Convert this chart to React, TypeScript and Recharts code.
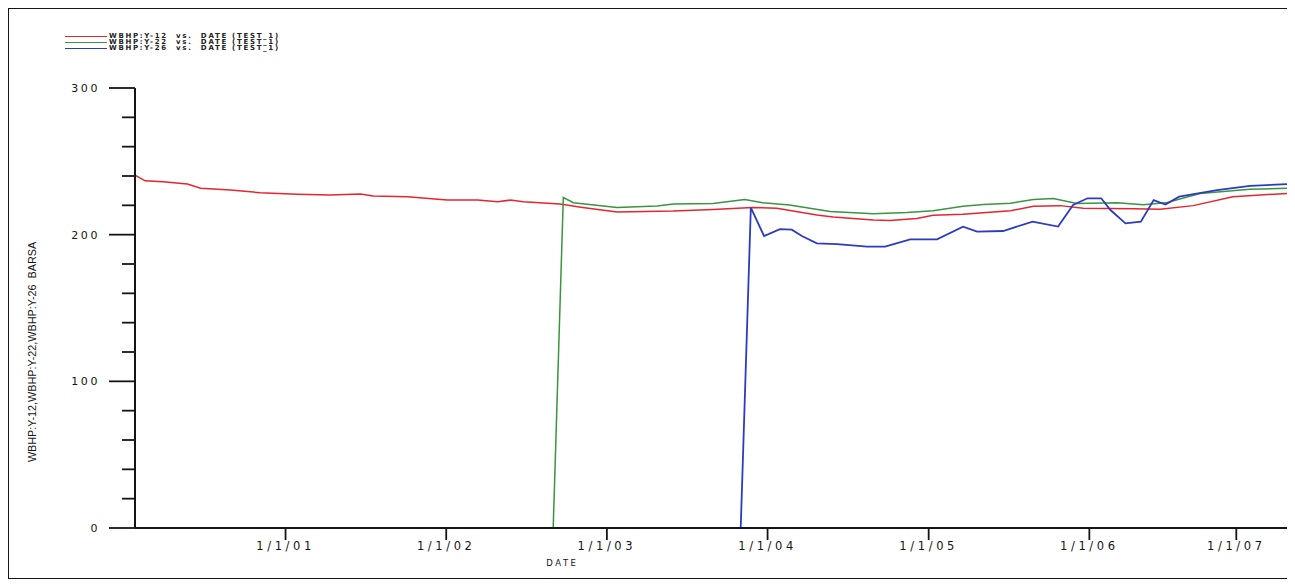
import React from 'react';
import { LineChart, Line, XAxis, YAxis, Legend } from 'recharts';

// Bottom-hole pressure history (BARSA) for wells Y-12, Y-22 and Y-26
const y12Dates = [
  '2000-01-25', '2000-02-17', '2000-03-29', '2000-05-23', '2000-06-22', '2000-08-29', '2000-11-04',
  '2001-01-28', '2001-04-13', '2001-06-20', '2001-07-19', '2001-10-05',
  '2002-01-03', '2002-03-13', '2002-04-28', '2002-05-27', '2002-06-25', '2002-09-16', '2002-11-07',
  '2003-01-24', '2003-06-01', '2003-08-30', '2003-11-28',
  '2004-01-22', '2004-04-22', '2004-05-29', '2004-08-28', '2004-10-05', '2004-12-05',
  '2005-01-11', '2005-03-20', '2005-05-05', '2005-07-06', '2005-08-27', '2005-10-27', '2005-12-18',
  '2006-04-11', '2006-06-11', '2006-08-25', '2006-11-23', '2007-03-26',
];
const y12Values = [
  240.6, 236.7, 236, 234.5, 231.6, 230.4, 228.6,
  227.5, 227, 227.7, 226.3, 225.8,
  223.6, 223.6, 222.4, 223.6, 222.4, 220.9, 218.6,
  215.4, 216.1, 217.2, 218.6,
  218, 213.4, 212, 210, 209.7, 211.1,
  213.3, 214, 215, 216.3, 219.3, 219.8, 218,
  217.7, 217.3, 219.8, 225.9, 228.1,
];

const y22Dates = [
  '2002-09-01', '2002-09-24', '2002-10-17',
  '2003-01-24', '2003-04-25', '2003-06-01', '2003-08-30', '2003-11-10', '2003-12-21',
  '2004-02-20', '2004-05-22', '2004-08-28', '2004-11-13',
  '2005-01-11', '2005-03-20', '2005-05-05', '2005-07-06', '2005-08-27', '2005-10-11', '2005-12-04',
  '2006-03-05', '2006-05-04', '2006-06-27', '2006-09-09', '2007-01-01', '2007-03-26',
];
const y22Values = [
  0, 225.3, 221.8,
  218.6, 219.5, 220.9, 221.3, 224, 221.8,
  220.2, 215.8, 214.3, 215.1,
  216.3, 219.3, 220.5, 221.5, 224, 224.7, 221.3,
  221.8, 220.4, 222, 228, 230.9, 231.6,
];

const y26Dates = [
  '2003-11-01', '2003-11-24', '2003-12-24',
  '2004-01-29', '2004-02-25', '2004-03-19', '2004-04-22', '2004-06-07', '2004-08-14', '2004-09-24', '2004-11-20',
  '2005-01-20', '2005-03-20', '2005-04-21', '2005-06-19', '2005-08-25', '2005-10-22', '2005-11-25', '2005-12-28',
  '2006-01-28', '2006-02-18', '2006-03-24', '2006-04-28', '2006-05-27', '2006-06-23', '2006-07-24', '2006-10-18',
  '2007-01-01', '2007-03-26',
];
const y26Values = [
  0, 218.4, 199.1,
  203.8, 203.4, 199.1, 194.1, 193.6, 191.8, 191.8, 196.8,
  196.8, 205.5, 202.1, 202.5, 208.9, 205.5, 220.2, 224.8,
  224.8, 216.8, 207.7, 208.9, 223.6, 220.5, 225.9, 230.4,
  233.2, 234.5,
];

const seriesNames = [
  'WBHP:Y-12  vs.  DATE (TEST_1)',
  'WBHP:Y-22  vs.  DATE (TEST_1)',
  'WBHP:Y-26  vs.  DATE (TEST_1)',
];
const seriesColors = ['#e3262f', '#3a9440', '#2b3cbf'];

const xStart = '2000-01-25';
const xEnd = '2007-03-26';
const xTickDates = ['2001-01-01', '2002-01-01', '2003-01-01', '2004-01-01', '2005-01-01', '2006-01-01', '2007-01-01'];
const xTickLabels = ['1/1/01', '1/1/02', '1/1/03', '1/1/04', '1/1/05', '1/1/06', '1/1/07'];
const yTicks = [0, 20, 40, 60, 80, 100, 120, 140, 160, 180, 200, 220, 240, 260, 280, 300];
const yLabelTicks = [0, 100, 200, 300];

const toSeries = (dates: string[], values: number[]) =>
  dates.map((d, i) => ({ t: Date.parse(d), v: values[i] }));

const y12 = toSeries(y12Dates, y12Values);
const y22 = toSeries(y22Dates, y22Values);
const y26 = toSeries(y26Dates, y26Values);

const xTicks = xTickDates.map((d) => Date.parse(d));
const axisFont = '"DejaVu Sans", Verdana, sans-serif';
const ink = '#151515';

const YTick = (props: any) => {
  const { x, y, payload } = props;
  const major = yLabelTicks.includes(payload.value);
  return (
    <g>
      <line x1={x - (major ? 26 : 13)} x2={x} y1={y} y2={y} stroke={ink} strokeWidth={1.8} />
      {major && (
        <text
          x={x - 35}
          y={y}
          dy={4}
          textAnchor="end"
          fontFamily={axisFont}
          fontSize={11}
          letterSpacing={2.6}
          fill={ink}
        >
          {payload.value}
        </text>
      )}
    </g>
  );
};

const XTick = (props: any) => {
  const { x, y, payload } = props;
  const idx = xTicks.indexOf(payload.value);
  return (
    <g>
      <line x1={x} x2={x} y1={y} y2={y + 12} stroke={ink} strokeWidth={1.8} />
      <text
        x={x}
        y={y + 22}
        textAnchor="middle"
        fontFamily={axisFont}
        fontSize={11.5}
        letterSpacing={3.6}
        fill={ink}
      >
        {idx >= 0 ? xTickLabels[idx] : ''}
      </text>
    </g>
  );
};

const LegendBox = (props: any) => {
  const { payload } = props;
  return (
    <div>
      {(payload || []).map((entry: any) => (
        <div
          key={entry.value}
          style={{ display: 'flex', alignItems: 'center', height: 6 }}
        >
          <span
            style={{
              display: 'inline-block',
              width: 42,
              height: 0,
              borderTop: `1.3px solid ${entry.color}`,
              marginRight: 2,
            }}
          />
          <span
            style={{
              fontFamily: axisFont,
              fontSize: 7,
              fontWeight: 'bold',
              letterSpacing: 1.7,
              lineHeight: '6px',
              whiteSpace: 'pre',
              color: '#222',
            }}
          >
            {entry.value}
          </span>
        </div>
      ))}
    </div>
  );
};

export default function App() {
  return (
    <div style={{ position: 'relative', width: 1280, height: 571 }}>
      <LineChart
        width={1280}
        height={571}
        margin={{ top: 80, right: 1, bottom: 0, left: 0 }}
      >
        <XAxis
          type="number"
          dataKey="t"
          domain={[Date.parse(xStart), Date.parse(xEnd)]}
          allowDataOverflow
          ticks={xTicks}
          tick={<XTick />}
          tickSize={0}
          tickMargin={0}
          tickLine={false}
          height={51}
          axisLine={{ stroke: ink, strokeWidth: 2 }}
          label={{
            value: 'DATE',
            content: (p: any) => (
              <text
                x={p.viewBox.x + p.viewBox.width * 0.371}
                y={p.viewBox.y + 38}
                textAnchor="middle"
                fontFamily={axisFont}
                fontSize={8.5}
                letterSpacing={2.5}
                fill={ink}
              >
                DATE
              </text>
            ),
          }}
        />
        <YAxis
          type="number"
          domain={[0, 300]}
          ticks={yTicks}
          interval={0}
          width={127}
          tick={<YTick />}
          tickSize={0}
          tickMargin={0}
          tickLine={false}
          axisLine={{ stroke: ink, strokeWidth: 2 }}
          label={{
            value: 'WBHP:Y-12,WBHP:Y-22,WBHP:Y-26  BARSA',
            content: () => (
              <text
                x={25}
                y={344}
                transform="rotate(-90 25 344)"
                textAnchor="middle"
                dominantBaseline="middle"
                fontFamily='"Liberation Sans", Arial, sans-serif'
                fontSize={10.8}
                fill={ink}
                style={{ whiteSpace: 'pre' }}
              >
                WBHP:Y-12,WBHP:Y-22,WBHP:Y-26  BARSA
              </text>
            ),
          }}
        />
        <Legend
          layout="horizontal"
          verticalAlign="middle"
          align="center"
          content={<LegendBox />}
          wrapperStyle={{ top: 25, left: 57, width: 320, height: 20 }}
        />
        <Line
          data={y12}
          dataKey="v"
          name={seriesNames[0]}
          stroke={seriesColors[0]}
          strokeWidth={1.5}
          dot={false}
          type="linear"
          isAnimationActive={false}
        />
        <Line
          data={y22}
          dataKey="v"
          name={seriesNames[1]}
          stroke={seriesColors[1]}
          strokeWidth={1.5}
          dot={false}
          type="linear"
          isAnimationActive={false}
        />
        <Line
          data={y26}
          dataKey="v"
          name={seriesNames[2]}
          stroke={seriesColors[2]}
          strokeWidth={1.8}
          dot={false}
          type="linear"
          isAnimationActive={false}
        />
      </LineChart>
      <div
        style={{
          position: 'absolute',
          inset: 0,
          border: `1.5px solid ${ink}`,
          pointerEvents: 'none',
        }}
      />
    </div>
  );
}
